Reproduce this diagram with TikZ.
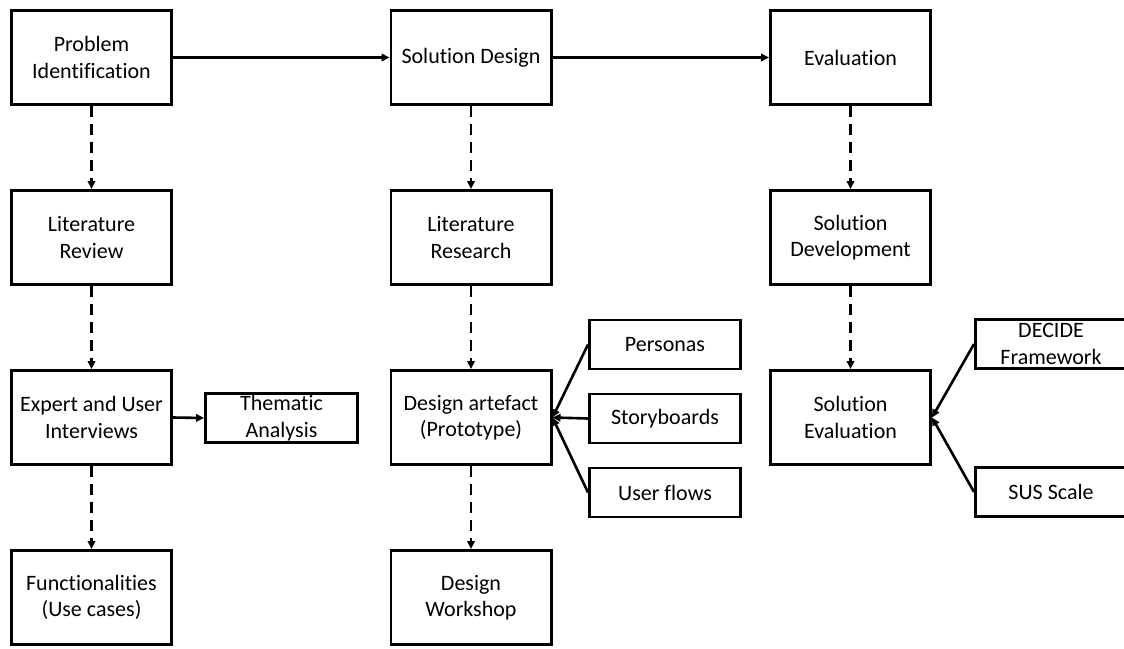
\documentclass[tikz,border=0pt]{standalone}
\usepackage{fontspec}
\setmainfont{Carlito}[Ligatures=NoCommon]
\usetikzlibrary{arrows.meta}
\begin{document}
\begin{tikzpicture}[x=1pt,y=-1pt,
  box/.style={draw, line width=2.6pt, align=center, inner sep=0pt,
              font=\fontsize{22}{26.5}\selectfont},
  mainbox/.style={box, minimum width=160.4pt, minimum height=94.4pt},
  sidebox/.style={box, minimum width=151.4pt, minimum height=49pt},
  flow/.style={line width=2.6pt, -{Triangle[length=8pt,width=7.5pt]}},
  substep/.style={flow, dash pattern=on 11pt off 7pt}]
  \clip (0,0) rectangle (1124,648);

  % main stages
  \node[mainbox] (pi)   at (91.5,57.5)  {Problem\\Identification};
  \node[mainbox] (sd)   at (471,57.5)   {Solution Design};
  \node[mainbox] (ev)   at (850.5,57.5) {Evaluation};

  % left column
  \node[mainbox] (lr)   at (91.5,237.5) {Literature\\Review};
  \node[mainbox] (eui)  at (91.5,417.5) {Expert and User\\Interviews};
  \node[mainbox] (fn)   at (91.5,597.5) {Functionalities\\(Use cases)};
  \node[box, minimum width=152.4pt, minimum height=49.4pt] (ta) at (281.5,418) {Thematic\\Analysis};

  % middle column
  \node[mainbox] (lres) at (471,237.5)  {Literature\\Research};
  \node[mainbox] (da)   at (471,417.5)  {Design artefact\\(Prototype)};
  \node[mainbox] (dw)   at (471,597.5)  {Design\\Workshop};
  \node[sidebox] (per)  at (665,344.5)  {Personas};
  \node[sidebox] (sb)   at (665,418.5)  {Storyboards};
  \node[sidebox] (uf)   at (665,492.5)  {User flows};

  % right column
  \node[mainbox] (sdev) at (850.5,237.5) {Solution\\Development};
  \node[mainbox] (se)   at (850.5,417.5) {Solution\\Evaluation};
  \node[sidebox] (dec)  at (1051,344)   {DECIDE\\Framework};
  \node[sidebox] (sus)  at (1051,492)   {SUS Scale};

  % stage sequence
  \draw[flow] (pi.east) -- (sd.west);
  \draw[flow] (sd.east) -- (ev.west);

  % sub-steps
  \draw[substep] (pi.south)   -- (lr.north);
  \draw[substep] (lr.south)   -- (eui.north);
  \draw[substep] (eui.south)  -- (fn.north);
  \draw[substep] (sd.south)   -- (lres.north);
  \draw[substep] (lres.south) -- (da.north);
  \draw[substep] (da.south)   -- (dw.north);
  \draw[substep] (ev.south)   -- (sdev.north);
  \draw[substep] (sdev.south) -- (se.north);

  % inputs
  \draw[flow] (eui.east) -- (ta.west);
  \draw[flow] (per.west) -- (da.east);
  \draw[flow] (sb.west)  -- (da.east);
  \draw[flow] (uf.west)  -- (da.east);
  \draw[flow] (dec.west) -- (se.east);
  \draw[flow] (sus.west) -- (se.east);
\end{tikzpicture}
\end{document}
